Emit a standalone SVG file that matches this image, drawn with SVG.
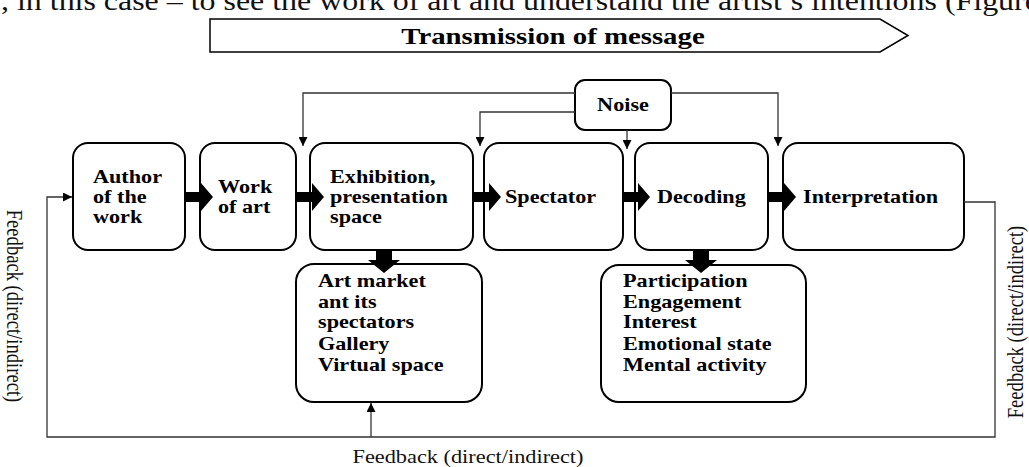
<svg xmlns="http://www.w3.org/2000/svg" width="1029" height="467" viewBox="0 0 1029 467">
<style>
.box{fill:#fff;stroke:#000;stroke-width:2}
.b{font-family:"Liberation Serif","Times New Roman",serif;font-weight:bold;font-size:18.5px;fill:#000}
.r{font-family:"Liberation Serif","Times New Roman",serif;font-size:18.6px;fill:#111}
.thin{fill:none;stroke:#333;stroke-width:1.3}
.thick{fill:#000}
</style>
<defs>
<marker id="ah" viewBox="0 0 10 10" refX="10" refY="5" markerWidth="9" markerHeight="9" markerUnits="userSpaceOnUse" orient="auto">
<path d="M0,0 L10,5 L0,10 z" fill="#000"/>
</marker>
<path id="harrow" d="M0,-5 H16 V-14 L28,0 L16,14 V5 H0 z"/>
<path id="varrow" d="M-8,0 V10 H-16 L0,23 L16,10 H8 V0 z"/>
</defs>

<text class="r" style="font-size:26.6px" transform="translate(1 0) scale(1.2 1)" x="0" y="10">, in this case – to see the work of art and understand the artist’s intentions (Figure</text>

<g id="transmission">
<path d="M210,19 H880 L908,35.5 L880,52 H210 z" fill="#fff" stroke="#000" stroke-width="1.5"/>
<text class="b" style="font-size:24px" text-anchor="middle" transform="translate(553 0) scale(1.2 1)" x="0" y="44">Transmission of message</text>
</g>

<g id="noise">
<rect class="box" x="575" y="80" width="96" height="50" rx="10"/>
<text class="b" text-anchor="middle" transform="translate(623 0) scale(1.2 1)" x="0" y="111">Noise</text>
</g>

<g id="author">
<rect class="box" x="73" y="143" width="112" height="107" rx="15"/>
<text class="b" transform="translate(93 0) scale(1.2 1)"><tspan x="0" y="183">Author</tspan><tspan x="0" y="203">of the</tspan><tspan x="0" y="223">work</tspan></text>
</g>
<g id="work">
<rect class="box" x="200" y="143" width="96" height="107" rx="15"/>
<text class="b" transform="translate(218 0) scale(1.2 1)"><tspan x="0" y="193">Work</tspan><tspan x="0" y="213">of art</tspan></text>
</g>
<g id="exhibition">
<rect class="box" x="310" y="143" width="163" height="107" rx="15"/>
<text class="b" transform="translate(330 0) scale(1.2 1)"><tspan x="0" y="183">Exhibition,</tspan><tspan x="0" y="203">presentation</tspan><tspan x="0" y="223">space</tspan></text>
</g>
<g id="spectator">
<rect class="box" x="484" y="143" width="139" height="107" rx="15"/>
<text class="b" transform="translate(505 0) scale(1.2 1)" x="0" y="203">Spectator</text>
</g>
<g id="decoding">
<rect class="box" x="635" y="143" width="133" height="107" rx="15"/>
<text class="b" transform="translate(657 0) scale(1.2 1)" x="0" y="203">Decoding</text>
</g>
<g id="interpretation">
<rect class="box" x="783" y="143" width="181" height="107" rx="15"/>
<text class="b" transform="translate(803 0) scale(1.2 1)" x="0" y="203">Interpretation</text>
</g>
<g id="artmarket">
<rect class="box" x="296" y="264" width="186" height="138" rx="18"/>
<text class="b" transform="translate(318 0) scale(1.2 1)"><tspan x="0" y="287">Art market</tspan><tspan x="0" y="308">ant its</tspan><tspan x="0" y="328">spectators</tspan><tspan x="0" y="350">Gallery</tspan><tspan x="0" y="371">Virtual space</tspan></text>
</g>
<g id="responses">
<rect class="box" x="601" y="265" width="205" height="137" rx="18"/>
<text class="b" transform="translate(623 0) scale(1.2 1)"><tspan x="0" y="287">Participation</tspan><tspan x="0" y="308">Engagement</tspan><tspan x="0" y="328">Interest</tspan><tspan x="0" y="350">Emotional state</tspan><tspan x="0" y="371">Mental activity</tspan></text>
</g>

<g id="connectors">
<use href="#harrow" class="thick" x="185" y="197"/>
<use href="#harrow" class="thick" x="296" y="197"/>
<use href="#harrow" class="thick" x="473" y="197"/>
<use href="#harrow" class="thick" x="622" y="197"/>
<use href="#harrow" class="thick" x="768" y="197"/>
<use href="#varrow" class="thick" x="384" y="250"/>
<use href="#varrow" class="thick" x="701" y="250"/>
<path class="thin" d="M575,93 H303 V146" marker-end="url(#ah)"/>
<path class="thin" d="M575,112 H480 V146" marker-end="url(#ah)"/>
<path class="thin" d="M627,130 V149" marker-end="url(#ah)"/>
<path class="thin" d="M671,93 H778 V146" marker-end="url(#ah)"/>
<path class="thin" d="M964,202 H995 V437 H47 V197 H72" marker-end="url(#ah)"/>
<path class="thin" d="M371,437 V403" marker-end="url(#ah)"/>
</g>

<text class="r" text-anchor="middle" transform="translate(13 306) rotate(90) scale(1 1.2)" x="0" y="5">Feedback (direct/indirect)</text>
<text class="r" text-anchor="middle" transform="translate(1017 322) rotate(-90) scale(1 1.2)" x="0" y="5">Feedback (direct/indirect)</text>
<text class="r" text-anchor="middle" transform="translate(468 0) scale(1.2 1)" x="0" y="463">Feedback (direct/indirect)</text>
</svg>
